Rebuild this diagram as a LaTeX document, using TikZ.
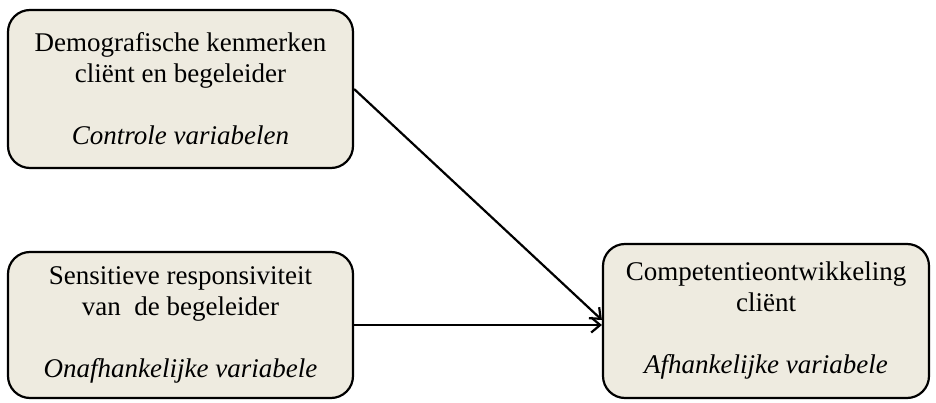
\documentclass[tikz,border=0pt]{standalone}
\usepackage{fontspec}
\setmainfont{Liberation Serif}
\usetikzlibrary{arrows.meta}
\usetikzlibrary{positioning}
\definecolor{mbeige}{RGB}{238, 235, 224}
\tikzset{varbox/.style = {draw, line width=2.2pt, rounded corners=22pt, fill=mbeige,
                          align=center, inner sep=0pt,
                          font=\fontsize{27}{31}\selectfont},
         pijl/.style = {-{Straight Barb[length=9pt, width=15pt]}, line width=2.2pt}}

\begin{document}
\begin{tikzpicture}[x=1pt, y=-1pt]
    \useasboundingbox (0, 0) rectangle (936, 403);
    \node [varbox, minimum width=345pt, minimum height=158pt] (demo) at (180.5, 89)
        {Demografische kenmerken\\ cliënt en begeleider\\[31pt] \textit{Controle variabelen}};
    \node [varbox, minimum width=345pt, minimum height=146pt] (sens) at (180.5, 325)
        {Sensitieve responsiviteit\\ van~ de begeleider\\[31pt] \textit{Onafhankelijke variabele}};
    \node [varbox, minimum width=326pt, minimum height=154pt] (comp) at (766, 321)
        {Competentieontwikkeling\\ cliënt\\[31pt] \textit{Afhankelijke variabele}};

    \draw [pijl] (demo.east) -- ([yshift=1pt]comp.west); % controle
    \draw [pijl] (sens.east) -- (sens.east -| comp.west);
\end{tikzpicture}
\end{document}
